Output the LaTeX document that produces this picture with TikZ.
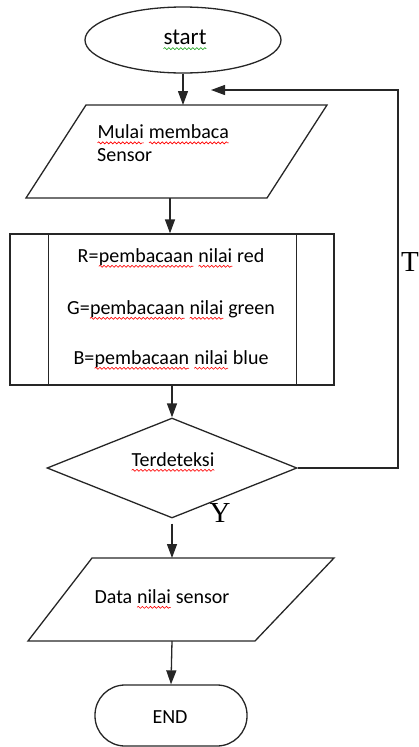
\documentclass[tikz,border=0pt]{standalone}
\usepackage{fontspec}
\setmainfont{Carlito}
\newfontfamily\labelserif{Liberation Serif}
\usetikzlibrary{shapes.geometric,arrows.meta,decorations.pathmorphing}
\tikzset{
  line/.style={draw=black!85, line width=1.3pt},
  flow/.style={draw=black!85, line width=1.3pt, -{Triangle[length=14pt,width=10pt]}},
  txt/.style={font=\fontsize{20}{23}\selectfont, inner sep=0pt},
  yn/.style={font=\labelserif\fontsize{29}{30}\selectfont, inner sep=0pt},
  squiggle/.style={line width=0.6pt, decorate,
    decoration={snake, amplitude=1pt, segment length=4pt}}
}
% a word with a wavy underline in the given colour
\newcommand\spell[2]{\tikz[baseline=(w.base)]{\node[inner sep=0pt, outer sep=0pt] (w) {#2};
  \draw[squiggle, draw=#1] ([yshift=-4pt]w.base west) -- ([yshift=-4pt]w.base east);}}
\newcommand\redu[1]{\spell{red}{#1}}
\newcommand\greenu[1]{\spell{green!60!black}{#1}}
\begin{document}
\begin{tikzpicture}[x=1pt,y=-1pt]
\useasboundingbox (0,0) rectangle (418,747);

% start
\node[ellipse, line, minimum width=196, minimum height=66, inner sep=0pt] (start) at (183,40) {};
\node[inner sep=0pt, font=\fontsize{23}{26}\selectfont] (starttxt) at (185,40) {\greenu{start}};

% read sensor (input)
\draw[line] (86,105) -- (327,105) -- (267,198) -- (26,198) -- cycle;
\node[txt, anchor=west, align=left] (read) at (97,143.5) {\redu{Mulai} \redu{membaca}\\Sensor};
\coordinate (readin) at (183,105);
\coordinate (readout) at (170,198);

% colour readings (predefined process)
\node[rectangle, line, minimum width=324, minimum height=151, inner sep=0pt] (proc) at (172,309.5) {};
\draw[line] ([xshift=39pt]proc.north west) -- ([xshift=39pt]proc.south west);
\draw[line] ([xshift=-38pt]proc.north east) -- ([xshift=-38pt]proc.south east);
\node[txt] (rline) at (171,258) {R=\redu{pembacaan} \redu{nilai} red};
\node[txt] (gline) at (171,310) {G=\redu{pembacaan} \redu{nilai} green};
\node[txt] (bline) at (171,360) {B=\redu{pembacaan} \redu{nilai} blue};

% decision
\node[diamond, line, aspect=2.5, minimum width=250, minimum height=100, inner sep=0pt] (dec) at (172,468) {};
\node[txt] (dectxt) at (173,462) {\redu{Terdeteksi}};

% output
\draw[line] (92,558) -- (334,558) -- (255,641) -- (28,641) -- cycle;
\node[txt] (data) at (162,599) {Data \redu{nilai} sensor};
\coordinate (datain) at (172,558);
\coordinate (dataout) at (172,641);

% end
\node[rectangle, rounded corners=30pt, line, minimum width=152, minimum height=61, inner sep=0pt] (end) at (171,715.5) {};
\node[txt] (endtxt) at (170,717) {END};

% loop back
\coordinate (loopturn) at (398,90);
\coordinate (loopin) at (211,90);

% connectors
\draw[flow] (start) -- (readin);
\draw[flow] (readout) -- (readout |- proc.north);
\draw[flow] (proc.south -| dec.north) -- (dec.north);
\draw[flow] (dec.east) -| (loopturn) -- (loopin);
\draw[flow, shorten <=5pt] (dec.south) -- (datain);
\draw[flow] (dataout) -- (end.north);

% branch labels
\node[yn] (tlabel) at (410,262) {T};
\node[yn] (ylabel) at (220,513) {Y};
\end{tikzpicture}
\end{document}
